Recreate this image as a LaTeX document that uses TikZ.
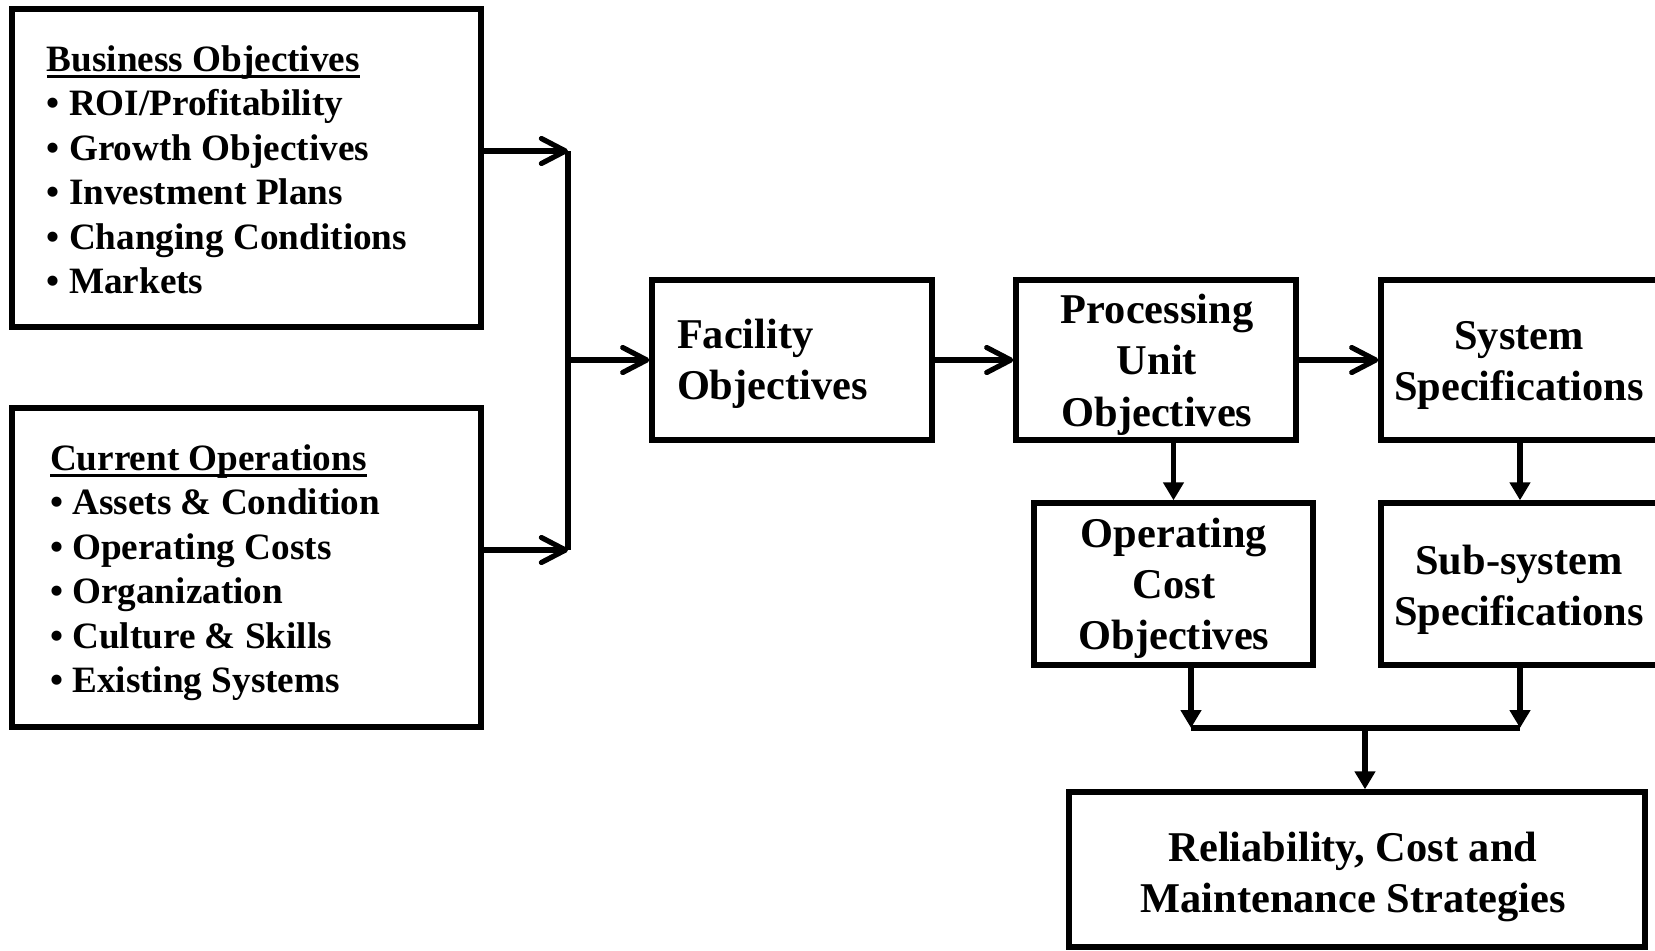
\documentclass[tikz,border=0pt]{standalone}
\usepackage{fontspec}
\setmainfont{Liberation Serif}
\usetikzlibrary{arrows.meta}

% underlined heading: a rule drawn under the full width of the text
\newcommand\ulhead[1]{\setbox0\hbox{#1}\rlap{\rule[-3.4pt]{\wd0}{1.4pt}}\box0}

\begin{document}
\begin{tikzpicture}[x=0.5pt,y=-0.5pt,
  box/.style={draw, line width=2.7pt, inner sep=0pt},
  lbl/.style={inner sep=0pt, font=\fontsize{18.6pt}{22.25pt}\selectfont\bfseries},
  big/.style={inner sep=0pt, font=\fontsize{21.2pt}{25.6pt}\selectfont\bfseries},
  link/.style={line width=2.6pt},
  barb/.style={line width=2.6pt, -{Straight Barb[length=12pt, width=12.5pt, line cap=round, line join=round]}},
  tri/.style={line width=2.6pt, -{Triangle[length=9pt, width=10pt]}}]
\useasboundingbox (0,0) rectangle (1655,950);

% boxes
\node[box, minimum width=234.5pt, minimum height=159pt]   (biz)  at (246.5,168)   {};
\node[box, minimum width=234.5pt, minimum height=159.5pt] (cur)  at (246.5,567.5) {};
\node[box, minimum width=140pt,   minimum height=80pt]    (fac)  at (792,360)     {};
\node[box, minimum width=140pt,   minimum height=80pt]    (proc) at (1156,360)    {};
\node[box, minimum width=139pt,   minimum height=80pt]    (sys)  at (1520,360)    {};
\node[box, minimum width=139.5pt, minimum height=81pt]    (opc)  at (1173.5,584)  {};
\node[box, minimum width=139pt,   minimum height=81pt]    (sub)  at (1520,584)    {};
\node[box, minimum width=288pt,   minimum height=77.5pt]  (rel)  at (1357,869.5)  {};

% texts
\node[lbl, anchor=base west] (bizt) at (46.4,71) {\begin{tabular}[t]{@{}l@{}}
  \ulhead{Business Objectives}\\
  • ROI/Profitability\\
  • Growth Objectives\\
  • Investment Plans\\
  • Changing Conditions\\
  • Markets\end{tabular}};
\node[lbl, anchor=base west] (curt) at (49.6,470) {\begin{tabular}[t]{@{}l@{}}
  \ulhead{Current Operations}\\
  • Assets \& Condition\\
  • Operating Costs\\
  • Organization\\
  • Culture \& Skills\\
  • Existing Systems\end{tabular}};
\node[big, anchor=base west] (fact) at (676.6,348) {\begin{tabular}[t]{@{}l@{}}Facility\\Objectives\end{tabular}};
\node[big, anchor=base] (proct) at (1157,323.6) {\begin{tabular}[t]{@{}c@{}}Processing\\Unit\\Objectives\end{tabular}};
\node[big, anchor=base] (syst) at (1519,349) {\begin{tabular}[t]{@{}c@{}}System\\Specifications\end{tabular}};
\node[big, anchor=base] (opct) at (1174,547) {\begin{tabular}[t]{@{}c@{}}Operating\\Cost\\Objectives\end{tabular}};
\node[big, anchor=base] (subt) at (1519,574) {\begin{tabular}[t]{@{}c@{}}Sub-system\\Specifications\end{tabular}};
\node[big, anchor=base] (relt) at (1353,861) {\begin{tabular}[t]{@{}c@{}}Reliability, Cost and\\Maintenance Strategies\end{tabular}};

% junction points
\coordinate (bus) at (568,151);
\coordinate (cus) at (568,550);
\coordinate (fj)  at (568,360);
\coordinate (jl)  at (1191,728);
\coordinate (jr)  at (1520,728);
\coordinate (jm)  at (1365,728);

% connectors
\draw[barb] (biz.east |- bus) -- (bus);
\draw[barb] (cur.east |- cus) -- (cus);
\draw[link] (bus) -- (cus);
\draw[barb] (fj) -- (fac.west);
\draw[barb] (fac.east) -- (proc.west);
\draw[barb] (proc.east) -- (sys.west);
\draw[tri] (proc.south -| opc.north) -- (opc.north);
\draw[tri] (sys.south) -- (sub.north);
\draw[tri] (opc.south -| jl) -- (jl);
\draw[tri] (sub.south) -- (jr);
\draw[link] (jl) -- (jr);
\draw[tri] (jm) -- (rel.north -| jm);
\end{tikzpicture}
\end{document}
